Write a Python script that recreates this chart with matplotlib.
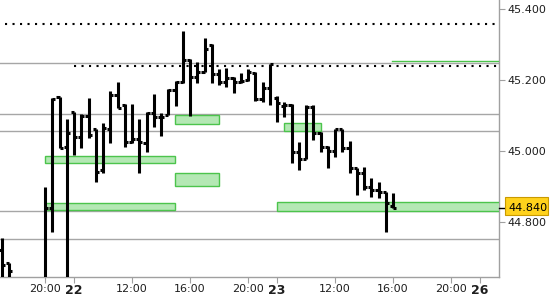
import matplotlib
matplotlib.use('Agg')
import matplotlib.pyplot as plt
from matplotlib.patches import Rectangle
from matplotlib.transforms import blended_transform_factory

# hourly-ish bars, x = bar slot (session gaps removed)
bar_idx = [-6, -5, 0, 1, 2, 3, 4, 5, 6, 7, 8, 9, 10, 11, 12, 13, 14, 15, 16, 17, 18, 19,
           20, 21, 22, 23, 24, 25, 26, 27, 28, 29, 30, 31, 32, 33, 34, 35, 36, 37, 38,
           39, 40, 41, 42, 43, 44, 45, 46, 47, 48]
opens = [44.720, 44.683, 44.600, 44.840, 45.152, 45.011, 45.111, 45.039, 45.098, 45.062,
         44.946, 45.061, 45.158, 45.130, 45.026, 45.034, 45.023, 45.108, 45.097, 45.101,
         45.172, 45.195, 45.257, 45.208, 45.224, 45.299, 45.217, 45.195, 45.205, 45.195,
         45.200, 45.219, 45.146, 45.177, 45.150, 45.127, 45.130, 44.998, 44.976, 45.123,
         45.051, 45.012, 45.000, 45.061, 45.007, 44.951, 44.938, 44.897, 44.890, 44.883,
         44.844]
highs = [44.754, 44.683, 44.899, 45.149, 45.153, 45.090, 45.111, 45.104, 45.149, 45.062,
         45.079, 45.169, 45.195, 45.132, 45.132, 45.090, 45.111, 45.161, 45.107, 45.175,
         45.197, 45.339, 45.259, 45.252, 45.318, 45.302, 45.231, 45.234, 45.209, 45.221,
         45.231, 45.222, 45.194, 45.245, 45.155, 45.139, 45.132, 45.026, 45.130, 45.130,
         45.054, 45.014, 45.061, 45.061, 45.028, 44.951, 44.954, 44.923, 44.913, 44.883,
         44.880]
lows = [44.600, 44.600, 44.600, 44.771, 45.008, 44.600, 44.988, 45.008, 45.036, 44.912,
        44.938, 45.022, 45.121, 45.011, 45.022, 44.938, 44.998, 45.068, 45.043, 45.101,
        45.128, 45.192, 45.099, 45.191, 45.224, 45.193, 45.186, 45.179, 45.164, 45.191,
        45.198, 45.142, 45.139, 45.130, 45.082, 45.097, 44.965, 44.946, 44.976, 45.031,
        44.998, 44.951, 44.984, 44.998, 44.938, 44.875, 44.890, 44.871, 44.866, 44.770,
        44.838]
closes = [44.678, 44.660, 44.839, 45.147, 45.008, 45.050, 45.039, 45.098, 45.045, 44.941,
          45.065, 45.158, 45.122, 45.026, 45.034, 45.025, 45.108, 45.097, 45.097, 45.172,
          45.195, 45.257, 45.208, 45.224, 45.287, 45.217, 45.195, 45.205, 45.195, 45.197,
          45.224, 45.146, 45.177, 45.245, 45.134, 45.130, 44.998, 44.976, 45.123, 45.051,
          45.012, 45.000, 45.061, 45.007, 44.951, 44.938, 44.897, 44.890, 44.883, 44.852,
          44.840]

tick_pos = [0, 4, 12, 20, 28, 32, 40, 48, 56, 60]
tick_labels = ['20:00', '22', '12:00', '16:00', '20:00', '23', '12:00', '16:00', '20:00', '26']
day_labels = ['22', '23', '26']

y_ticks = [44.8, 45.0, 45.2, 45.4]

# support / resistance lines
gray_levels = [45.248, 45.104, 45.056, 44.830, 44.751]
dotted_levels = [45.358, 45.240]
dotted_start = [-5.5, 4.0]

# green zones
zone_x0 = [0.0, 0.0, 17.93, 17.93, 32.97, 32.0]
zone_x1 = [17.93, 17.93, 24.0, 24.0, 38.03, 63.0]
zone_lo = [44.965, 44.834, 44.901, 45.075, 45.057, 44.831]
zone_hi = [44.986, 44.852, 44.937, 45.101, 45.078, 44.855]
zone_line_x0 = 47.86
zone_line_y = 45.253

last_price = 44.840

fig = plt.figure(figsize=(5.5, 3.0), dpi=100)
ax = fig.add_axes([0.0, 1 - 277 / 300, 499 / 550, 277 / 300])

xmin, xmax = -6.21, 62.62
ax.set_xlim(xmin, xmax)
ax.set_ylim(44.644, 45.426)

for lev in gray_levels:
    ax.axhline(lev, color='#a6a6a6', lw=1.0, zorder=1)

for lev, x0 in zip(dotted_levels, dotted_start):
    ax.plot([x0, 62.3], [lev, lev], color='black', lw=1.5,
            linestyle=(0, (1, 2.6)), zorder=2)

for x0, x1, lo, hi in zip(zone_x0, zone_x1, zone_lo, zone_hi):
    ax.add_patch(Rectangle((x0, lo), x1 - x0, hi - lo, facecolor='#b4e8b4',
                           edgecolor='#4cc44c', lw=1.0, zorder=3))
ax.plot([zone_line_x0, 63], [zone_line_y, zone_line_y], color='#4cc44c', lw=1.0, zorder=3)

# OHLC bars
tk = 0.42
ax.vlines(bar_idx, lows, highs, color='black', lw=2.2, zorder=5)
ax.hlines(opens, [i - tk for i in bar_idx], bar_idx, color='black', lw=2.2, zorder=5)
ax.hlines(closes, bar_idx, [i + tk for i in bar_idx], color='black', lw=2.2, zorder=5)

# axes look
for s in ['top', 'left']:
    ax.spines[s].set_visible(False)
for s in ['right', 'bottom']:
    ax.spines[s].set_color('#a0a0a0')
    ax.spines[s].set_linewidth(1.0)

ax.yaxis.tick_right()
ax.set_yticks(y_ticks)
ax.set_yticklabels(['%.3f' % v for v in y_ticks])
ax.tick_params(axis='y', colors='#a0a0a0', labelcolor='#1e1e1e', length=4,
               direction='out', labelsize=8, pad=2)

ax.set_xticks(tick_pos)
ax.set_xticklabels(tick_labels)
ax.tick_params(axis='x', colors='#a0a0a0', labelcolor='#1e1e1e', length=4,
               direction='out', labelsize=8, pad=1)
for lab in ax.get_xticklabels():
    if lab.get_text() in day_labels:
        lab.set_fontweight('bold')
        lab.set_fontsize(9)

# last price marker
tr = blended_transform_factory(ax.transAxes, ax.transData)
ax.plot([1.0, 1.012], [last_price, last_price], color='black', lw=1.0,
        transform=tr, clip_on=False, zorder=6)
ax.add_patch(Rectangle((1.012, last_price - 0.021), 0.086, 0.051, transform=tr,
                       facecolor='#ffd21c', edgecolor='#c99a00', lw=0.8,
                       clip_on=False, zorder=6))
ax.text(1.018, last_price - 0.002, '%.3f' % last_price, transform=tr, fontsize=8,
        color='black', va='center', ha='left', zorder=7)

plt.savefig('out.png', dpi=100)
